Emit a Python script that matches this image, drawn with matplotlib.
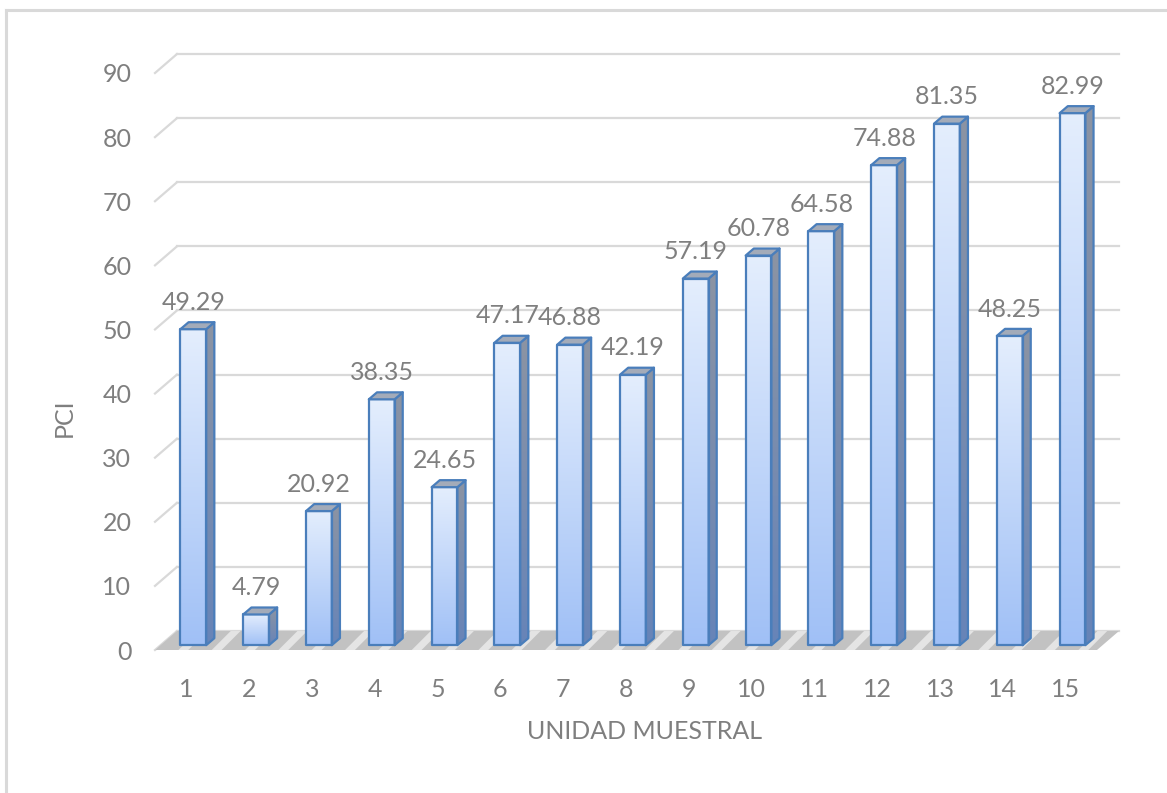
import numpy as np
import matplotlib
matplotlib.use("Agg")
import matplotlib.pyplot as plt
from matplotlib.patches import Polygon, Rectangle
from matplotlib.lines import Line2D
from matplotlib.colors import LinearSegmentedColormap

# data
unidades = list(range(1, 16))
pci = [49.29, 4.79, 20.92, 38.35, 24.65, 47.17, 46.88, 42.19,
       57.19, 60.78, 64.58, 74.88, 81.35, 48.25, 82.99]
y_ticks = list(range(0, 100, 10))

plt.rcParams['font.family'] = ['Lato', 'DejaVu Sans']
text_gray = '#7f7f7f'
grid_gray = '#d9d9d9'
edge_blue = '#4a7ebb'

fig = plt.figure(figsize=(11.67, 7.93), dpi=100)
ax = fig.add_axes([155 / 1167, 143 / 793, 942 / 1167, 577 / 793])

# fake 3d offsets (category units, value units)
wall_dx, wall_dy = 0.35, 2.96     # back wall
front_dx, front_dy = 0.11, 0.75   # bar front plane
bar_dx, bar_dy = 0.13, 1.09       # bar depth
half_w = 0.205

# gridlines on the back wall + left diagonal
for v in y_ticks:
    ax.add_line(Line2D([0.5, 0.5 + wall_dx], [v, v + wall_dy], color=grid_gray, lw=1.6,
                       zorder=0.5, clip_on=False))
    ax.add_line(Line2D([0.5 + wall_dx, 15.5 + wall_dx], [v + wall_dy, v + wall_dy],
                       color=grid_gray, lw=1.6, zorder=0.5, clip_on=False))

# floor
plt.rcParams['hatch.linewidth'] = 5
floor = Polygon([(0.5, 0), (15.5, 0), (15.5 + wall_dx, wall_dy), (0.5 + wall_dx, wall_dy)],
                closed=True, facecolor='#c2c2c2', edgecolor='#e4e4e4', hatch='/', lw=0,
                zorder=1, clip_on=False)
ax.add_patch(floor)

grad = np.linspace(0, 1, 256).reshape(-1, 1)
cmap_front = LinearSegmentedColormap.from_list('front', ['#a0c0f6', '#e4eefd'])
cmap_side = LinearSegmentedColormap.from_list('side', ['#6784b8', '#8c94a3'])

for x, v in zip(unidades, pci):
    xc = x + front_dx
    x0, x1 = xc - half_w, xc + half_w
    yb, yt = front_dy, v + front_dy

    # front face
    ax.imshow(grad, cmap=cmap_front, extent=[x0, x1, yb, yt], origin='lower',
              aspect='auto', zorder=3, interpolation='bilinear')
    ax.add_patch(Rectangle((x0, yb), x1 - x0, yt - yb, fill=False, edgecolor=edge_blue,
                           lw=1.6, joinstyle='round', zorder=4))

    # side face
    side = Polygon([(x1, yb), (x1, yt), (x1 + bar_dx, yt + bar_dy), (x1 + bar_dx, yb + bar_dy)],
                   closed=True, facecolor='none', edgecolor=edge_blue, lw=1.6,
                   joinstyle='round', zorder=4)
    ax.add_patch(side)
    im = ax.imshow(grad, cmap=cmap_side, extent=[x1, x1 + bar_dx, yb, yt + bar_dy],
                   origin='lower', aspect='auto', zorder=3, interpolation='bilinear')
    im.set_clip_path(side)

    # top face
    ax.add_patch(Polygon([(x0, yt), (x1, yt), (x1 + bar_dx, yt + bar_dy), (x0 + bar_dx, yt + bar_dy)],
                         closed=True, facecolor='#a3abb9', edgecolor=edge_blue, lw=1.6,
                         joinstyle='round', zorder=4, clip_on=False))

    # value label
    ax.text(xc, yt + bar_dy + 1.3, f"{v:.2f}", ha='center', va='bottom',
            fontsize=18, color=text_gray, zorder=6, clip_on=False)

ax.set_xlim(0.5, 15.5)
ax.set_ylim(0, 90)
ax.set_xticks(unidades)
ax.set_yticks(y_ticks)
ax.tick_params(length=0, labelsize=18, labelcolor=text_gray)
ax.tick_params(axis='y', pad=17)
ax.tick_params(axis='x', pad=20)
for s in ax.spines.values():
    s.set_visible(False)
ax.patch.set_visible(False)

ax.set_xlabel('UNIDAD MUESTRAL', fontsize=18, color=text_gray)
ax.xaxis.set_label_coords(0.52, -0.142)
ax.xaxis.label.set_va('center')
ax.set_ylabel('PCI', fontsize=18, color=text_gray)
ax.yaxis.set_label_coords(-0.0966, 0.402)
ax.yaxis.label.set_va('center')

# chart frame (left and top edges visible)
fig.add_artist(Line2D([6 / 1167, 6 / 1167], [0, 1 - 10 / 793], color=grid_gray, lw=2.2,
                      transform=fig.transFigure))
fig.add_artist(Line2D([6 / 1167, 1], [1 - 10 / 793, 1 - 10 / 793], color=grid_gray, lw=2.2,
                      transform=fig.transFigure))

fig.savefig('out.png', dpi=100)
